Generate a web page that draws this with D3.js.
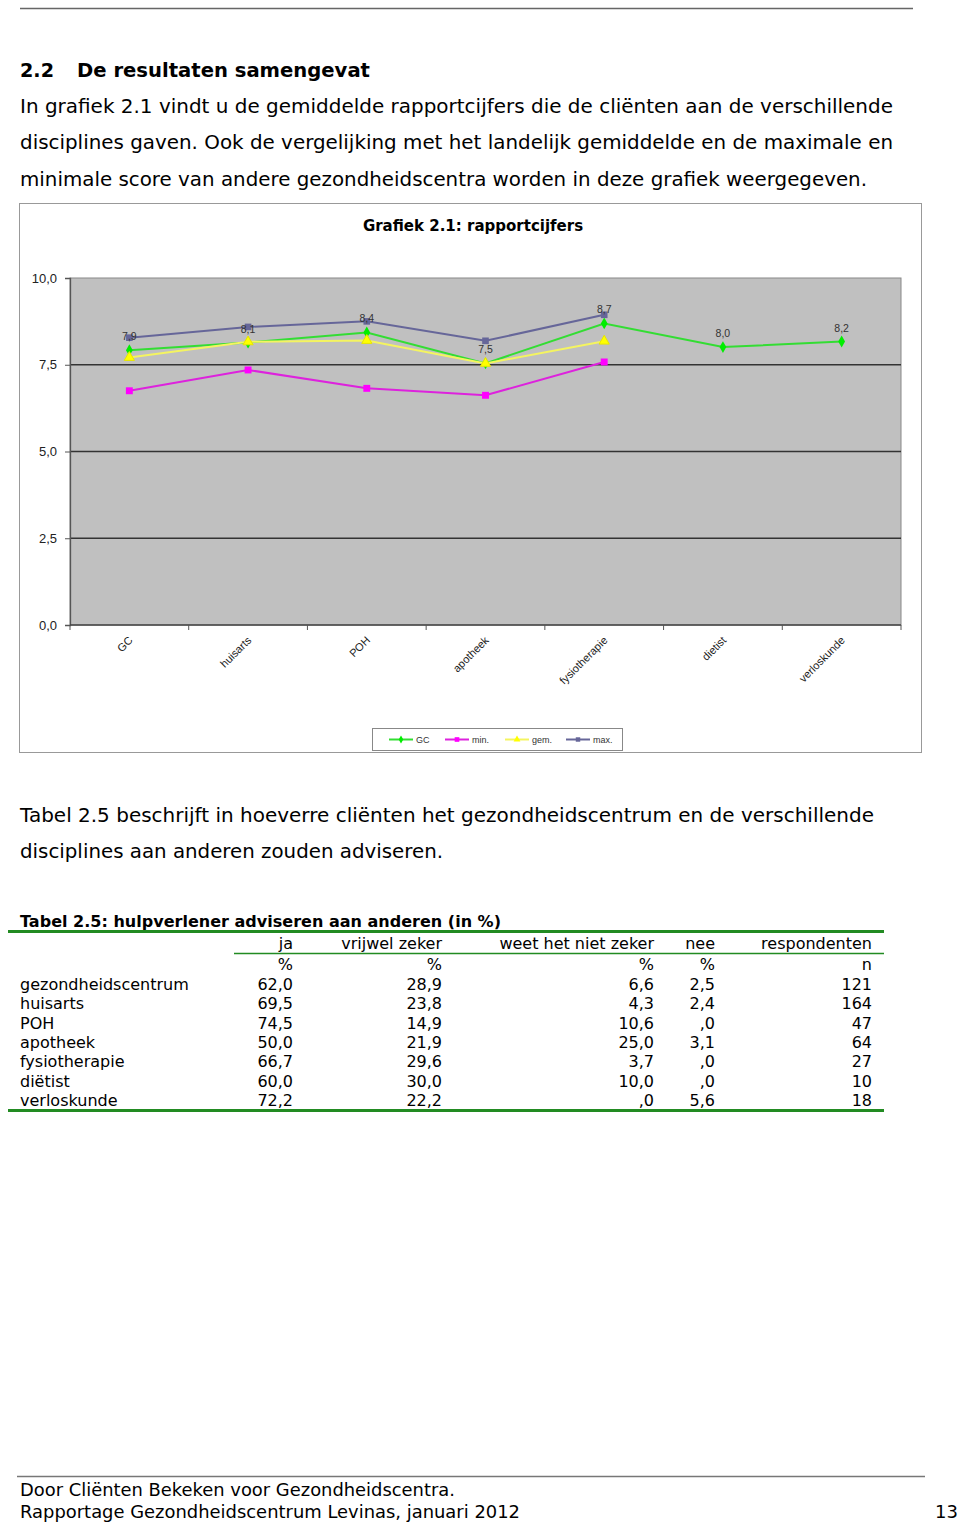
<!DOCTYPE html>
<html><head><meta charset="utf-8">
<script src="https://cdn.jsdelivr.net/npm/d3@7/dist/d3.min.js"></script>
<style>body{margin:0;background:#fff}svg{display:block}</style>
</head><body>
<script>
// ---------- DATA ----------
const categories = ["GC","huisarts","POH","apotheek","fysiotherapie","dietist","verloskunde"];
const gcValues  = [7.92, 8.14, 8.43, 7.54, 8.69, 8.01, 8.17];
const minValues = [6.75, 7.35, 6.82, 6.62, 7.58, null, null];
const gemValues = [7.71, 8.16, 8.20, 7.54, 8.18, null, null];
const maxValues = [8.28, 8.59, 8.75, 8.19, 8.94, null, null];
const yTickValues = [0, 2.5, 5, 7.5, 10];
const seriesNames = ["GC","min.","gem.","max."];

const tableRows = ["gezondheidscentrum","huisarts","POH","apotheek","fysiotherapie","diëtist","verloskunde"];
const tableCols = ["ja","vrijwel zeker","weet het niet zeker","nee","respondenten"];
const tableUnits = ["%","%","%","%","n"];
const jaValues      = [62.0, 69.5, 74.5, 50.0, 66.7, 60.0, 72.2];
const vrijwelValues = [28.9, 23.8, 14.9, 21.9, 29.6, 30.0, 22.2];
const weetValues    = [6.6, 4.3, 10.6, 25.0, 3.7, 10.0, 0.0];
const neeValues     = [2.5, 2.4, 0.0, 3.1, 0.0, 0.0, 5.6];
const nValues       = [121, 164, 47, 64, 27, 10, 18];

// ---------- SETUP ----------
const W = 960, H = 1522;
const svg = d3.select("body").append("svg").attr("width", W).attr("height", H);
const bodyFont = "'DejaVu Sans', Verdana, sans-serif";
const chartFont = "'Liberation Sans', Arial, sans-serif";

function txt(x, y, s, opts = {}) {
  const t = svg.append("text").attr("x", x).attr("y", y).text(s)
    .attr("font-family", opts.font || bodyFont)
    .attr("font-size", opts.size || 19)
    .attr("fill", opts.fill || "#000")
    .attr("text-anchor", opts.anchor || "start");
  if (opts.bold) t.attr("font-weight", "bold");
  if (opts.len) t.attr("textLength", opts.len).attr("lengthAdjust", "spacingAndGlyphs");
  return t;
}

// top rule
svg.append("line").attr("x1", 20).attr("x2", 913).attr("y1", 8.5).attr("y2", 8.5)
  .attr("stroke", "#666").attr("stroke-width", 1.5);

// heading & paragraph
txt(20, 77, "2.2", {bold: true, size: 19, len: 34});
txt(77, 77, "De resultaten samengevat", {bold: true, size: 19, len: 293});
txt(20, 113, "In grafiek 2.1 vindt u de gemiddelde rapportcijfers die de cliënten aan de verschillende", {size: 19, len: 873});
txt(20, 149, "disciplines gaven. Ook de vergelijking met het landelijk gemiddelde en de maximale en", {size: 19, len: 873});
txt(20, 186, "minimale score van andere gezondheidscentra worden in deze grafiek weergegeven.", {size: 19, len: 847});

// ---------- CHART ----------
svg.append("rect").attr("x", 19.5).attr("y", 203.5).attr("width", 902).attr("height", 549)
  .attr("fill", "#fff").attr("stroke", "#999").attr("stroke-width", 1);

txt(473, 231, "Grafiek 2.1: rapportcijfers", {bold: true, size: 15, anchor: "middle", font: bodyFont});

const plotL = 70, plotR = 901, plotT = 278, plotB = 625;
const y = d3.scaleLinear().domain([0, 10]).range([plotB, plotT]);
const x = d3.scaleBand().domain(categories).range([plotL, plotR]);
const cx = c => x(c) + x.bandwidth() / 2;
const fmt = v => d3.format(".1f")(v).replace(".", ",");

const g = svg.append("g");
g.append("rect").attr("x", plotL).attr("y", plotT).attr("width", plotR - plotL).attr("height", plotB - plotT)
  .attr("fill", "#c0c0c0").attr("stroke", "#888").attr("stroke-width", 1);

// gridlines
g.selectAll("line.grid").data(yTickValues.filter(v => v > 0 && v < 10)).join("line")
  .attr("class", "grid").attr("x1", plotL).attr("x2", plotR)
  .attr("y1", d => y(d)).attr("y2", d => y(d))
  .attr("stroke", "#333").attr("stroke-width", 1.3);

// y axis
const yAxis = d3.axisLeft(y).tickValues(yTickValues).tickFormat(fmt).tickSize(5).tickPadding(8);
const ya = g.append("g").attr("transform", `translate(${plotL},0)`).call(yAxis);
ya.select(".domain").attr("stroke", "#555").attr("stroke-width", 1.3);
ya.selectAll(".tick line").attr("stroke", "#555");
ya.selectAll("text").attr("font-family", chartFont).attr("font-size", 13).attr("fill", "#222");

// x axis baseline and boundary ticks
g.append("line").attr("x1", plotL).attr("x2", plotR).attr("y1", plotB).attr("y2", plotB)
  .attr("stroke", "#444").attr("stroke-width", 1.5);
const bounds = categories.map(c => x(c)).concat([plotR]);
g.selectAll("line.xt").data(bounds).join("line").attr("class", "xt")
  .attr("x1", d => d).attr("x2", d => d).attr("y1", plotB).attr("y2", plotB + 5)
  .attr("stroke", "#555");
g.selectAll("text.xl").data(categories).join("text").attr("class", "xl")
  .attr("transform", d => `translate(${cx(d) + 4},${plotB + 16}) rotate(-45)`)
  .attr("text-anchor", "end").attr("font-family", chartFont).attr("font-size", 11)
  .attr("fill", "#222").text(d => d);

// series
const series = [
  {name: seriesNames[0], values: gcValues, line: "#33dd33", fill: "#00ee00", shape: d3.symbolDiamond, size: 40},
  {name: seriesNames[1], values: minValues, line: "#dd22dd", fill: "#ff00ff", shape: d3.symbolSquare, size: 48},
  {name: seriesNames[2], values: gemValues, line: "#f4f460", fill: "#ffff00", shape: d3.symbolTriangle, size: 45},
  {name: seriesNames[3], values: maxValues, line: "#666699", fill: "#666699", shape: d3.symbolSquare, size: 44}
];
const lineGen = d3.line().defined(d => d.v != null).x(d => cx(d.c)).y(d => y(d.v));

series.forEach(s => {
  const pts = categories.map((c, i) => ({c, v: s.values[i]}));
  g.append("path").datum(pts).attr("d", lineGen).attr("fill", "none")
    .attr("stroke", s.line).attr("stroke-width", 2);
  g.selectAll(null).data(pts.filter(p => p.v != null)).join("path")
    .attr("transform", p => `translate(${cx(p.c)},${y(p.v)})`)
    .attr("d", d3.symbol(s.shape, s.size)).attr("fill", s.fill)
    .attr("stroke", s.shape === d3.symbolTriangle ? "#e6e600" : "none");
});

// GC data labels
g.selectAll("text.dl").data(categories.map((c, i) => ({c, v: gcValues[i]}))).join("text")
  .attr("class", "dl").attr("x", d => cx(d.c)).attr("y", d => y(d.v) - 10)
  .attr("text-anchor", "middle").attr("font-family", chartFont).attr("font-size", 10.5)
  .attr("fill", "#333").text(d => fmt(d.v));

// legend
const lg = svg.append("g");
lg.append("rect").attr("x", 372.5).attr("y", 728.5).attr("width", 250).attr("height", 22)
  .attr("fill", "#fff").attr("stroke", "#888");
const legendX = [389, 445, 505, 566];
series.forEach((s, i) => {
  const lx = legendX[i], ly = 739.5;
  lg.append("line").attr("x1", lx).attr("x2", lx + 24).attr("y1", ly).attr("y2", ly)
    .attr("stroke", s.line).attr("stroke-width", 2);
  lg.append("path").attr("transform", `translate(${lx + 12},${ly})`)
    .attr("d", d3.symbol(s.shape, s.size * 0.45)).attr("fill", s.fill);
  lg.append("text").attr("x", lx + 27).attr("y", ly + 3.5).attr("font-family", chartFont)
    .attr("font-size", 9).attr("fill", "#333").text(s.name);
});

// ---------- TEXT BETWEEN ----------
txt(20, 822, "Tabel 2.5 beschrijft in hoeverre cliënten het gezondheidscentrum en de verschillende", {size: 19, len: 854});
txt(20, 858, "disciplines aan anderen zouden adviseren.", {size: 19, len: 423});

// ---------- TABLE ----------
txt(20, 927, "Tabel 2.5: hulpverlener adviseren aan anderen (in %)", {bold: true, size: 16, len: 481});
svg.append("line").attr("x1", 8).attr("x2", 884).attr("y1", 931.5).attr("y2", 931.5)
  .attr("stroke", "#228b22").attr("stroke-width", 3);
const colRight = [293, 442, 654, 715, 872];
tableCols.forEach((c, i) => txt(colRight[i], 949, c, {size: 16, anchor: "end"}));
svg.append("line").attr("x1", 234).attr("x2", 884).attr("y1", 953.5).attr("y2", 953.5)
  .attr("stroke", "#228b22").attr("stroke-width", 1.5);
tableUnits.forEach((u, i) => txt(colRight[i], 970, u, {size: 16, anchor: "end"}));

const pf = v => { let s = d3.format(".1f")(v).replace(".", ","); return s.startsWith("0,") ? s.slice(1) : s; };
const cols = [jaValues, vrijwelValues, weetValues, neeValues];
const rowY = d3.scaleLinear().domain([0, 6]).range([990, 1106]);
tableRows.forEach((r, i) => {
  const yy = rowY(i);
  txt(20, yy, r, {size: 16});
  cols.forEach((col, j) => txt(colRight[j], yy, pf(col[i]), {size: 16, anchor: "end"}));
  txt(colRight[4], yy, String(nValues[i]), {size: 16, anchor: "end"});
});
svg.append("line").attr("x1", 8).attr("x2", 884).attr("y1", 1110.5).attr("y2", 1110.5)
  .attr("stroke", "#228b22").attr("stroke-width", 3);

// ---------- FOOTER ----------
svg.append("line").attr("x1", 17).attr("x2", 925).attr("y1", 1476.5).attr("y2", 1476.5)
  .attr("stroke", "#777").attr("stroke-width", 1.5);
txt(20, 1496, "Door Cliënten Bekeken voor Gezondheidscentra.", {size: 18, len: 435});
txt(20, 1518, "Rapportage Gezondheidscentrum Levinas, januari 2012", {size: 18, len: 500});
txt(958, 1518, "13", {size: 18, anchor: "end"});
</script>
</body></html>
